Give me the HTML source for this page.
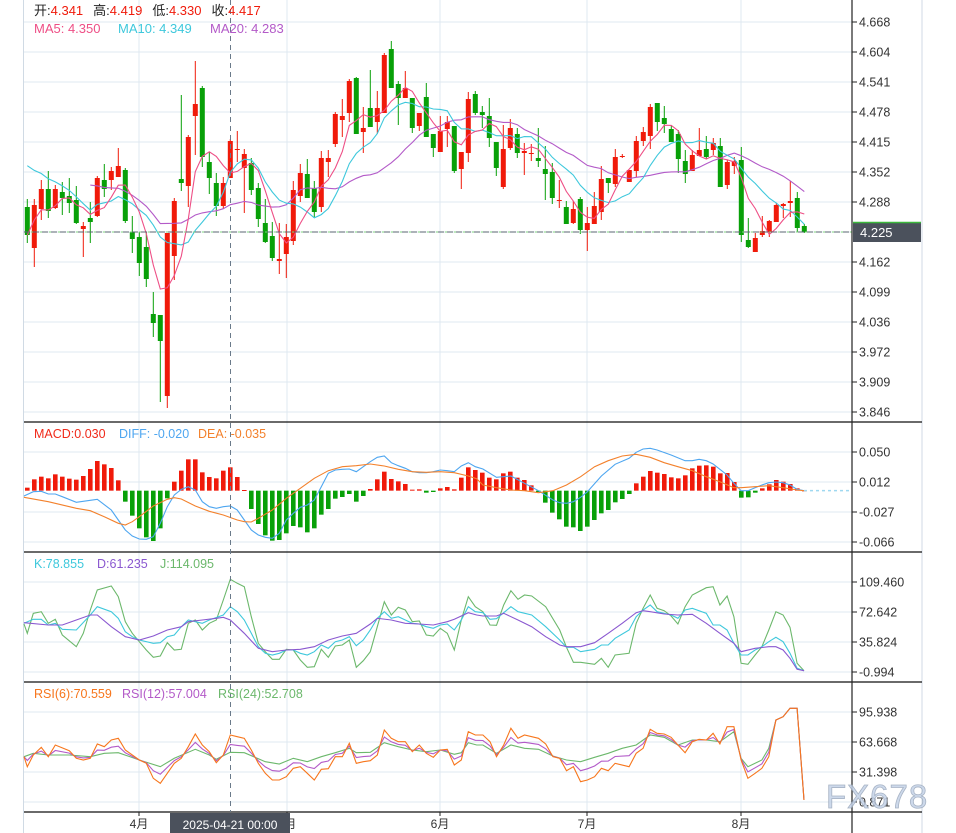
<!DOCTYPE html>
<html><head><meta charset="utf-8"><style>
body{margin:0;background:#fff;width:956px;height:833px;overflow:hidden}
svg{display:block}
text{font-family:"Liberation Sans","Noto Sans CJK SC",sans-serif}
</style></head><body>
<svg id="s" width="956" height="833" xmlns="http://www.w3.org/2000/svg"></svg>
<script>
const C=[
['g',207,235,199,243],['r',205,248,199,267],['r',189,209,180,220],['g',189,211,171,218],['r',189,208,185,209],
['g',192,198,182,215],['g',196,203,178,213],['g',200,223,186,224],['r',226,229,222,257],['g',218,222,202,243],
['r',178,216,176,217],['g',180,189,164,197],['r',171,180,167,190],['r',166,177,148,177],['g',170,221,168,223],
['g',232,239,216,253],['g',237,263,232,276],['g',247,279,232,287],['g',314,323,292,337],['g',315,341,315,402],
['r',233,396,233,408],['r',201,256,198,280],['g',179,183,95,191],['r',137,186,135,207],['r',104,116,61,155],
['g',88,157,86,167],['g',162,178,152,194],['g',183,206,173,216],['r',183,206,177,209],['r',141,178,139,178],
['r',149,150,131,162],['r',154,168,149,213],['g',163,190,158,195],['g',188,219,183,227],['g',223,242,199,243],
['g',236,258,222,261],['r',259,261,223,274],['r',237,254,224,278],['r',190,241,181,245],['r',173,196,164,202],
['g',174,198,159,198],['g',188,212,181,217],['r',158,207,151,212],['r',158,162,150,177],['r',114,144,112,147],
['r',116,120,99,137],['r',81,113,79,122],['g',78,134,77,134],['r',128,132,107,153],['g',108,127,70,127],
['r',108,122,91,134],['r',55,113,53,113],['g',49,88,41,88],['g',84,98,81,125],['r',88,98,71,98],
['g',98,128,98,133],['r',113,126,113,131],['g',97,137,83,137],['g',134,148,134,157],['r',131,152,116,152],
['r',122,129,116,147],['g',126,171,126,173],['r',152,169,152,189],['r',99,153,92,162],['g',94,113,91,115],
['g',112,115,106,128],['g',116,138,98,147],['g',142,168,142,176],['r',149,187,125,189],['r',128,148,119,150],
['g',134,153,128,158],['r',151,153,143,175],['r',153,154,144,161],['g',158,161,128,167],['g',169,174,146,200],
['g',172,198,163,204],['r',200,201,180,208],['g',207,224,201,224],['r',209,223,201,224],['g',199,230,197,234],
['r',223,230,207,251],['r',206,224,192,224],['r',179,212,166,220],['g',178,183,178,193],['r',157,184,149,187],
['r',156,157,154,158],['r',170,182,170,182],['r',141,171,136,177],['r',132,141,127,146],['r',107,136,104,149],
['g',103,122,103,131],['g',118,124,106,133],['g',129,142,125,142],['g',134,159,130,173],['g',161,174,150,183],
['r',155,171,150,171],['r',150,156,128,156],['g',149,157,136,159],['r',143,150,138,155],['g',146,187,138,187],
['r',162,185,160,189],['r',161,166,157,174],['g',160,235,147,242],['g',240,247,218,248],['r',238,252,233,252],
['r',231,235,216,237],['r',221,232,220,237],['r',205,222,203,222],['r',204,206,203,218],['r',201,203,181,217],
['g',198,228,192,232],['g',226,232,224,233]];
const N=C.length, X=i=>27.3+7*i;
const RED='#f01a0a',GRN='#08a008';
let h='';
const L=(x1,y1,x2,y2,c,w=1,extra='')=>h+=`<line x1="${x1}" y1="${y1}" x2="${x2}" y2="${y2}" stroke="${c}" stroke-width="${w}" ${extra}/>`;
const T=(x,y,t,c,s=12,extra='')=>h+=`<text x="${x}" y="${y}" fill="${c}" font-size="${s}" ${extra}>${t}</text>`;
const G='#dfe8f0';
for(let y=22;y<=412;y+=30)L(24,y,852,y,G);
[452,482,512,542,582,612,642,672,712,742,772,802].forEach(y=>L(24,y,852,y,G));
[139,287,440,587,741].forEach(x=>L(x,0,x,812,G));
L(23.5,0,23.5,833,'#d0dae4');L(922,0,922,833,'#d0dae4');
const closes=C.map(c=>c[0]=='r'?c[1]:c[2]);
C.forEach((c,i)=>{const x=X(i),col=c[0]=='r'?RED:GRN;L(x,c[3],x,c[4],col,1);
h+=`<rect x="${x-2.5}" y="${c[1]}" width="5" height="${Math.max(1,c[2]-c[1])}" fill="${col}"/>`;});
function ma(n,pad,start,col){let pts=[];for(let i=start;i<N;i++){let s=0,k=0;for(let j=i-n+1;j<=i;j++){if(j>=0){s+=closes[j];k++}else if(pad!=null){s+=pad;k++}}pts.push(X(i).toFixed(1)+','+(s/k).toFixed(1));}
h+=`<polyline points="${pts.join(' ')}" fill="none" stroke="${col}" stroke-width="1.1"/>`;}
ma(20,160,9,'#b35ac8');ma(10,158,0,'#3ec8dc');ma(5,null,0,'#ee4f86');
L(24,232,852,232,'#5a6472',1,'stroke-dasharray="6,3"');L(24,232,852,232,'#7ed37e',1,'stroke-dasharray="2,7" stroke-dashoffset="-7"');

// hand-read indicator series: z3 -> x=zx/3 ; z4 -> x=420+zx*0.3416 ; y=420+zy/3
function pts(a,b){let r=[];for(let i=0;i<a.length;i+=2){const x=a[i]/3;if(x<478)r.push([x,420+a[i+1]/3]);}
for(let i=0;i<b.length;i+=2){const x=420+b[i]*0.3416;if(x>=478)r.push([x,420+b[i+1]/3]);}return r;}
function poly(p,col){h+=`<polyline points="${p.map(q=>q[0].toFixed(1)+','+q[1].toFixed(1)).join(' ')}" fill="none" stroke="${col}" stroke-width="1.1"/>`;}
// MACD bars
const hb=[203,178,170,175,163,170,176,179,168,147,123,133,144,181,245,287,325,352,363,325,235,185,152,118,118,157,171,175,152,142,171,210,267,312,346,362,360,340,318,322,337,325,284,267,236,231,222,245,228,207,178,155,177,184,192,209,208,218,216,205,201,208,173,142,150,
158,173,178,160,155,173,180,196,216,248,278,298,320,322,333,320,300,280,270,247,237,222,190,170,153,158,162,172,175,166,145,137,136,140,160,159,186,233,232,218,205,193,180,185,192,205,211];
const z0=420+212/3;
hb.forEach((v,i)=>{const y=420+v/3,x=X(i);h+=`<rect x="${x-2.3}" y="${Math.min(y,z0)}" width="4.6" height="${Math.max(1,Math.abs(y-z0))}" fill="${v<=212?RED:GRN}"/>`;});
poly(pts([72,228,100,215,124,214,145,222,166,222,187,230,229,247,271,241,292,238,334,270,355,300,376,330,397,348,418,357,439,358,460,350,481,310,502,260,523,225,544,208,565,200,586,210,607,245,628,260,649,265,670,260,691,258,712,270,733,300,754,330,775,345,796,352,817,355,838,340,859,300,880,280,901,262,922,255,943,240,964,200,985,160,1006,150,1027,148,1048,147,1069,155,1090,140,1111,125,1132,112,1153,108,1174,128,1195,137,1216,145,1237,155,1258,158,1279,158,1300,155,1321,150,1342,152,1363,155,1384,138,1405,128,1426,140],
[184,147,224,172,266,168,306,190,347,212,389,240,409,248,429,250,449,245,470,232,490,215,531,168,571,133,612,115,633,97,653,87,674,85,694,90,735,105,776,122,797,122,817,118,838,122,858,132,878,148,899,165,919,190,940,212,960,212,981,203,1001,195,1021,188,1042,186,1063,188,1083,195,1104,208,1124,212]),'#4ea6f0');
poly(pts([72,232,145,245,229,265,271,272,313,290,355,310,376,315,397,305,418,290,460,258,502,238,523,233,544,237,586,258,628,274,670,285,712,300,733,305,754,306,775,295,817,270,859,235,901,205,943,175,985,152,1027,140,1069,137,1111,132,1153,138,1195,148,1237,155,1279,157,1321,155,1363,158,1405,168,1430,176],
[184,195,224,203,266,210,306,212,347,218,389,212,429,195,470,170,511,140,551,122,592,108,633,103,674,112,715,128,755,140,797,152,838,170,878,185,919,203,940,203,981,200,1021,197,1063,203,1104,210,1124,212]),'#f3812c');
L(804,z0,852,z0,'#9fd8f0',1.5,'stroke-dasharray="3,3"');
// KDJ
poly(pts([72,612,82,640,100,580,124,575,145,610,166,598,187,645,229,680,250,640,271,570,292,510,334,498,355,530,376,605,397,640,418,665,439,690,460,712,481,708,502,668,523,690,544,688,565,610,586,600,607,630,628,610,649,600,670,540,691,478,712,490,733,500,754,590,775,670,796,695,817,718,838,718,859,688,880,690,901,720,922,742,943,740,964,688,985,712,1006,678,1027,675,1048,660,1069,742,1090,722,1111,695,1132,620,1153,545,1174,585,1195,562,1216,570,1237,605,1258,603,1279,645,1300,648,1321,625,1342,640,1363,690,1384,600,1405,530,1426,560],
[184,575,205,615,224,616,245,555,266,512,287,538,306,525,327,528,368,560,409,630,429,682,449,727,470,727,511,733,531,715,551,742,571,705,612,700,633,610,653,565,674,525,694,565,715,572,735,588,755,612,776,560,797,525,838,503,858,500,878,555,899,528,919,590,940,730,960,733,981,705,1001,680,1021,630,1042,575,1063,585,1083,622,1104,730,1124,752]),'#6cb86c');
poly(pts([72,610,100,598,124,598,145,615,166,610,187,628,229,630,271,585,292,560,334,575,355,595,376,635,397,650,418,660,460,670,481,668,502,650,523,645,544,620,565,600,586,605,607,610,628,600,670,585,691,560,712,575,733,600,754,640,775,680,796,700,817,705,838,700,859,690,880,690,901,700,922,705,943,695,964,675,985,685,1006,665,1027,660,1048,650,1069,677,1090,660,1111,630,1132,595,1153,575,1174,595,1195,590,1216,600,1237,610,1258,612,1279,620,1300,625,1321,615,1342,612,1363,630,1384,600,1405,560,1426,575],
[184,578,205,598,224,596,266,560,287,575,327,585,368,620,409,660,429,682,449,682,470,695,511,688,531,675,551,675,571,655,612,630,633,590,653,570,674,555,694,575,735,585,755,595,776,570,797,565,838,580,858,615,878,615,899,630,919,670,940,705,960,705,981,690,1001,680,1021,665,1042,652,1063,665,1083,700,1104,745,1124,752]),'#3ec8dc');
poly(pts([72,608,145,615,187,615,229,600,271,585,292,585,334,620,376,650,418,660,460,648,502,630,544,620,565,605,607,600,649,595,670,592,691,600,733,640,775,685,817,695,859,690,901,688,943,680,985,660,1027,648,1069,640,1111,612,1132,595,1174,600,1216,610,1258,612,1300,615,1342,605,1363,598,1405,578,1430,585],
[184,588,224,588,245,580,287,600,327,620,368,650,409,675,429,680,470,680,511,668,551,640,592,610,633,578,653,572,674,575,715,582,755,585,797,583,838,610,878,640,919,670,940,695,981,685,1021,680,1042,680,1063,690,1083,715,1104,748,1124,752]),'#8a58d0');
// RSI
const r6=pts([72,1010,82,1040,100,1005,124,982,145,1010,166,975,208,992,229,1015,250,1020,271,1015,292,972,313,980,334,960,355,955,376,990,418,1020,439,1030,460,1075,481,1090,502,1060,523,1030,544,1015,565,980,586,942,607,975,628,995,649,1028,670,1005,691,945,712,950,733,955,754,990,775,1030,796,1060,817,1080,838,1080,859,1070,880,1045,901,1040,922,1060,943,1080,964,1048,985,1046,1006,1010,1027,1010,1048,970,1069,1030,1090,1025,1111,1022,1132,1005,1153,930,1174,955,1195,965,1216,965,1237,995,1258,975,1279,1000,1300,1012,1321,990,1342,988,1363,1035,1384,1020,1405,935,1426,945],
[184,945,205,965,224,1010,245,975,266,925,287,955,306,945,347,955,368,972,389,1010,409,1015,429,1052,449,1040,470,1085,490,1080,511,1070,531,1045,551,1052,571,1030,612,1040,633,1000,653,985,674,928,694,940,715,942,735,952,755,975,776,998,797,965,817,958,838,960,858,940,878,972,899,920,919,920,940,1020,960,1075,981,1060,1001,1045,1021,1010,1042,900,1063,890,1083,865,1104,865,1124,1140]);
const r24=pts([72,1010,100,1000,145,1005,208,1005,271,1010,313,1000,355,998,418,1020,481,1040,523,1015,586,988,628,1005,649,1018,691,997,733,998,796,1025,838,1032,880,1015,922,1025,964,1010,1006,998,1048,985,1069,998,1111,997,1153,968,1195,980,1237,990,1279,995,1321,990,1363,1003,1384,998,1405,968,1430,975],
[184,975,224,1000,266,975,306,985,347,988,389,1008,429,1020,470,1025,511,1012,551,1000,592,985,633,975,674,945,715,952,755,975,797,960,838,960,878,965,919,935,940,1015,960,1040,1001,1020,1021,985,1042,900,1063,890,1083,865,1104,865,1124,1140]);
function interp(p,x){for(let i=1;i<p.length;i++)if(p[i][0]>=x){const a=p[i-1],b=p[i],t=(x-a[0])/(b[0]-a[0]||1);return a[1]+t*(b[1]-a[1]);}return p[p.length-1][1];}
const r12=r6.map(q=>[q[0],0.45*q[1]+0.55*interp(r24,q[0])]);
poly(r24,'#6cb86c');poly(r12,'#b35ac8');poly(r6,'#f7761c');
// separators and axis
[422,552,682,812].forEach(y=>L(24,y,922,y,'#111',1.3));
L(852,0,852,833,'#222',1.2);
const ticks=[[22,'4.668'],[52,'4.604'],[82,'4.541'],[112,'4.478'],[142,'4.415'],[172,'4.352'],[202,'4.288'],[262,'4.162'],[292,'4.099'],[322,'4.036'],[352,'3.972'],[382,'3.909'],[412,'3.846'],
[452,'0.050'],[482,'0.012'],[512,'-0.027'],[542,'-0.066'],[582,'109.460'],[612,'72.642'],[642,'35.824'],[672,'-0.994'],[712,'95.938'],[742,'63.668'],[772,'31.398'],[802,'0.871']];
ticks.forEach(([y,t])=>{L(852,y,857,y,'#222');T(859,y+4.5,t,'#333',12.5);});
h+=`<rect x="853" y="222" width="68" height="20" fill="#4b515c"/>`;L(853,222.5,921,222.5,'#3cb83c',1.5);
T(860,237,'4.225','#fff',13);
L(230.5,0,230.5,812,'#6a7a8a',1,'stroke-dasharray="5,4"');
[[139,'4月'],[287,'5月'],[440,'6月'],[587,'7月'],[741,'8月']].forEach(([x,t])=>{L(x,812,x,816,'#222');T(x,828,t,'#333',12,'text-anchor="middle"');});
h+=`<rect x="170" y="813" width="120" height="20" fill="#4b515c"/>`;T(230,829,'2025-04-21 00:00','#fff',12,'text-anchor="middle"');
h+=`<text y="15" font-size="13"><tspan x="34" fill="#222">开:</tspan><tspan fill="${RED}">4.341</tspan><tspan dx="10" fill="#222">高:</tspan><tspan fill="${RED}">4.419</tspan><tspan dx="10" fill="#222">低:</tspan><tspan fill="${RED}">4.330</tspan><tspan dx="10" fill="#222">收:</tspan><tspan fill="${RED}">4.417</tspan></text>`;
T(34,33,'MA5: 4.350','#ee4f86',13);T(118,33,'MA10: 4.349','#3ec8dc',13);T(210,33,'MA20: 4.283','#b35ac8',13);
T(34,438,'MACD:0.030','#f02a1a',12.5);T(119,438,'DIFF: -0.020','#4ea6f0',12.5);T(198,438,'DEA: -0.035','#f3812c',12.5);
T(34,568,'K:78.855','#3ec8dc',12.5);T(97,568,'D:61.235','#8a58d0',12.5);T(160,568,'J:114.095','#6cb86c',12.5);
T(34,698,'RSI(6):70.559','#f7761c',12.5);T(122,698,'RSI(12):57.004','#b35ac8',12.5);T(218,698,'RSI(24):52.708','#6cb86c',12.5);
T(826,808,'FX678','#c5d3e8',33,'stroke="#9aa8bc" stroke-width="0.8" letter-spacing="1" opacity="0.85"');
document.getElementById('s').innerHTML=h;
</script>
</body></html>
